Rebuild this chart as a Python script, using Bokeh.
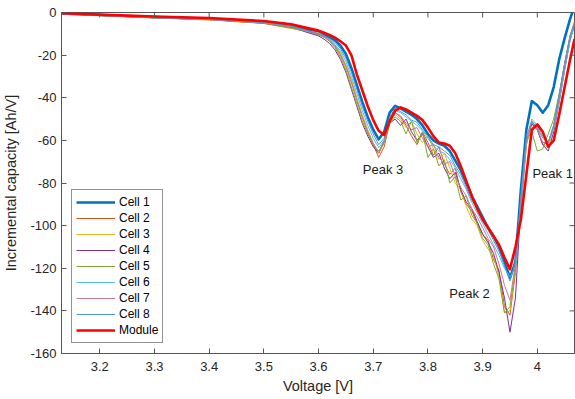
from bokeh.plotting import figure
from bokeh.models import FixedTicker, Range1d
from bokeh.core.properties import value
from bokeh.embed import file_html
from bokeh.resources import INLINE

# ---------------- data ----------------
voltage = [3.13, 3.20, 3.30, 3.40, 3.50, 3.55,
           3.60, 3.61, 3.62, 3.63, 3.64, 3.65, 3.66, 3.67, 3.68, 3.69,
           3.70, 3.71, 3.72, 3.73, 3.74, 3.75, 3.76, 3.77, 3.78, 3.79,
           3.80, 3.81, 3.82, 3.83, 3.84, 3.85, 3.86, 3.87, 3.88, 3.89,
           3.90, 3.91, 3.92, 3.93, 3.94, 3.95, 3.96, 3.97, 3.98, 3.99,
           4.00, 4.01, 4.02, 4.03, 4.04, 4.05, 4.06, 4.068]

cell1 = [-0.5, -1.2, -2.1, -2.9, -4.4, -6.0,
         -9.5, -10.5, -11.5, -13, -15.5, -19.5, -26, -34, -42, -49,
         -55, -59.5, -56, -47, -43.8, -45, -46.5, -48, -50, -53,
         -57, -60, -61.5, -62.5, -65, -69.5, -74, -80, -86, -91,
         -96, -101, -105, -110, -117, -124.5, -117, -83, -55, -41.5,
         -43.5, -47, -43.5, -35, -22, -12, -3, 3]

cell2 = [-0.5, -1.4, -2.5, -3.4, -5.0, -6.8,
         -10.5, -11.5, -13, -15.5, -19.5, -25, -32, -41, -49, -56,
         -62, -68, -63, -52, -47, -49, -53, -58, -62, -56,
         -61, -67, -63, -71, -76, -73, -84, -90, -93, -99,
         -104, -107, -116, -121, -138, -142, -122, -92, -62, -52,
         -55, -62, -61, -53, -39, -24, -11, -5]

cell3 = [-0.6, -1.5, -2.6, -3.5, -5.2, -7.5,
         -9.5, -11, -12.5, -15, -19, -24.5, -31.5, -40, -48, -55,
         -61, -66, -61, -51, -48, -50, -54, -51, -57, -61,
         -58, -64, -69, -66, -73, -80, -83, -91, -97, -100,
         -107, -111, -114, -124, -141, -140, -120, -90, -62, -53,
         -54, -62, -63, -54, -40, -25, -12, -5]

cell4 = [-0.5, -1.4, -2.5, -3.3, -5.0, -7.0,
         -11, -12.5, -14.5, -17.5, -22, -28, -36, -44, -52, -58,
         -63, -66, -60, -52, -50, -53, -50, -56, -60, -57,
         -63, -68, -66, -73, -78, -75, -83, -89, -92, -98,
         -104, -108, -113, -122, -134, -150, -134, -90, -60, -52,
         -55, -62, -65, -56, -42, -27, -13, -6]

cell5 = [-0.5, -1.3, -2.4, -3.2, -5.0, -7.3,
         -10, -11.5, -13.5, -16.5, -21, -27, -35, -43, -51, -57,
         -62, -65, -61, -52, -49, -51, -57, -51, -61, -56,
         -68, -64, -72, -69, -80, -77, -88, -86, -95, -99,
         -106, -109, -118, -125, -141, -138, -120, -88, -60, -56,
         -65, -64, -57, -50, -38, -24, -11, -4]

cell6 = [-0.6, -1.4, -2.4, -3.3, -4.8, -6.6,
         -10.3, -11.5, -13, -15, -18, -23, -30, -38, -46, -53,
         -59, -63.5, -60, -50, -46, -47, -49, -51, -53, -55.5,
         -59, -62.5, -65, -66, -69, -73, -78, -83, -89, -94,
         -99, -104, -109, -114, -120, -124, -120, -92, -62, -50,
         -53, -58, -61, -55, -42, -27, -13, -6]

cell7 = [-0.5, -1.3, -2.4, -3.3, -4.9, -6.6,
         -10.3, -11.5, -13.2, -16, -20, -25.5, -33, -41, -49, -56,
         -61.5, -66, -61, -51, -47, -48.5, -52, -55, -54, -59,
         -63, -62, -68, -71, -70, -77, -82, -86, -92, -96,
         -101, -106, -110, -118, -128, -135, -118, -88, -61, -51,
         -55, -61, -61, -53, -39, -24, -11, -5]

cell8 = [-0.5, -1.3, -2.3, -3.1, -4.6, -6.3,
         -10, -11, -12.3, -14, -17, -21.5, -28, -36, -44, -51,
         -57, -62, -59, -49, -45, -46.5, -48, -50.5, -51.5, -55,
         -58, -62, -63, -65, -67, -72, -76, -82, -88, -92,
         -98, -102, -107, -112, -119, -126, -117, -86, -58, -51,
         -54, -59, -61, -53, -39, -24, -11, -5]

module = [-0.3, -1.0, -1.9, -2.6, -4.0, -5.5,
          -8.5, -9.5, -10.5, -11.8, -13.5, -15.5, -20, -29, -36.5, -44,
          -50.5, -55.5, -57.5, -51, -46, -44.5, -45.5, -47, -48.5, -50.5,
          -54, -58, -61, -61.5, -62.5, -66, -72, -79, -86, -92,
          -97, -101, -105, -109, -115, -120.5, -110, -97, -76, -55,
          -52.5, -56, -63, -60, -48, -35, -22, -12.5]

series_names = ["Cell 1", "Cell 2", "Cell 3", "Cell 4", "Cell 5",
                "Cell 6", "Cell 7", "Cell 8", "Module"]
series_values = [cell1, cell2, cell3, cell4, cell5, cell6, cell7, cell8, module]

peak_names = ["Peak 3", "Peak 2", "Peak 1"]
peak_voltage = [3.681, 3.839, 3.991]
peak_capacity = [-73.5, -132, -75.5]

x_ticks = [3.2, 3.3, 3.4, 3.5, 3.6, 3.7, 3.8, 3.9, 4.0]
x_tick_labels = ["3.2", "3.3", "3.4", "3.5", "3.6", "3.7", "3.8", "3.9", "4"]
y_ticks = [-160, -140, -120, -100, -80, -60, -40, -20, 0]
y_tick_labels = ["-160", "-140", "-120", "-100", "-80", "-60", "-40", "-20", "0"]

x_min, x_max = 3.13, 4.068
y_min, y_max = -160, 0

# ---------------- styling ----------------
colors = ["#0072BD", "#D95319", "#EDB120", "#7E2F8E", "#77AC30",
          "#4DBEEE", "#C47A88", "#5097D2", "#FF0000"]
widths = [2.6, 1, 1, 1, 1, 1, 1, 1, 2.6]
FONT = "Liberation Sans"
AX = "#262626"
AXLINE = "#555555"

p = figure(width=575, height=399, output_backend="svg", toolbar_location=None,
           x_range=Range1d(x_min, x_max), y_range=Range1d(y_min, y_max),
           min_border_left=59, min_border_right=1, min_border_top=12,
           min_border_bottom=46)
p.background_fill_color = "white"
p.border_fill_color = "white"
p.outline_line_color = AXLINE
p.outline_line_width = 1
p.xgrid.visible = False
p.ygrid.visible = False

for name, vals, c, w in zip(series_names, series_values, colors, widths):
    p.line(voltage, vals, line_color=c, line_width=w, legend_label=name,
           line_join="round")

p.text(x=peak_voltage, y=peak_capacity, text=peak_names,
       text_font=value(FONT), text_font_size=value("13px"),
       text_align="left", text_baseline="middle", text_color="#1a1a1a")

# axes
p.xaxis.ticker = FixedTicker(ticks=x_ticks)
p.yaxis.ticker = FixedTicker(ticks=y_ticks)
p.xaxis.major_label_overrides = dict(zip(x_ticks, x_tick_labels))
p.yaxis.major_label_overrides = dict(zip(y_ticks, y_tick_labels))
p.xaxis.axis_label = "Voltage [V]"
p.yaxis.axis_label = "Incremental capacity [Ah/V]"

for ax in (p.xaxis[0], p.yaxis[0]):
    ax.axis_line_color = AXLINE
    ax.axis_line_width = 1
    ax.major_tick_in = 5
    ax.major_tick_out = 0
    ax.major_tick_line_color = AXLINE
    ax.minor_tick_line_color = None
    ax.major_label_text_font = FONT
    ax.major_label_text_font_size = "13px"
    ax.major_label_text_color = AX
    ax.axis_label_text_font = FONT
    ax.axis_label_text_font_size = "14.5px"
    ax.axis_label_text_font_style = "normal"
    ax.axis_label_text_color = AX
p.xaxis[0].major_label_standoff = 8
p.xaxis[0].axis_label_standoff = 4
p.yaxis[0].major_label_standoff = 5
p.yaxis[0].axis_label_standoff = 8

# inward tick marks on the top and right edges of the box (MATLAB "box on")
p.ray(x=x_ticks, y=[y_max] * len(x_ticks), length=5, length_units="screen",
      angle=-90, angle_units="deg", line_color=AXLINE, line_width=1)
p.ray(x=[x_max] * len(y_ticks), y=y_ticks, length=5, length_units="screen",
      angle=180, angle_units="deg", line_color=AXLINE, line_width=1)

# legend
lg = p.legend[0]
lg.location = (10, 10)
lg.glyph_width = 39
lg.glyph_height = 16
lg.label_height = 16
lg.spacing = 0
lg.padding = 4
lg.margin = 0
lg.label_standoff = 4
lg.label_text_font = FONT
lg.label_text_font_size = "12px"
lg.label_text_color = "#000000"
lg.border_line_color = AX
lg.border_line_width = 1
lg.background_fill_color = "white"
lg.background_fill_alpha = 1

open("out.html", "w").write(file_html(p, INLINE))
